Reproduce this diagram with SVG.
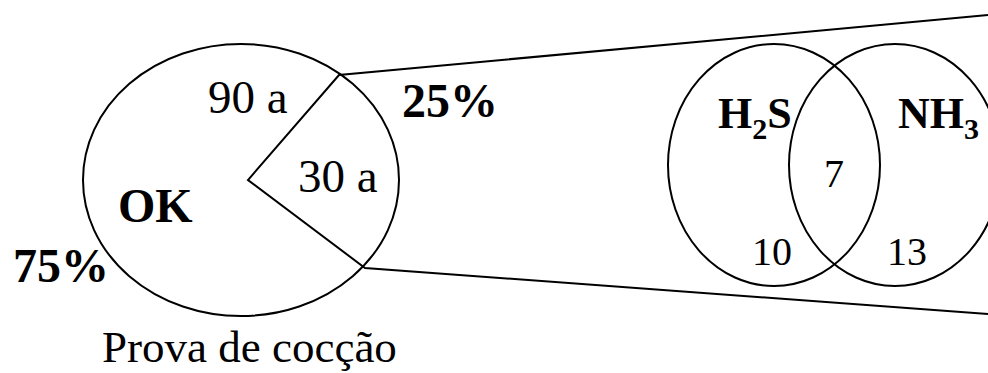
<svg xmlns="http://www.w3.org/2000/svg" width="988" height="373" viewBox="0 0 988 373">
<style>
.s{fill:none;stroke:#000;stroke-width:2}
.r{font-family:"Liberation Serif","Times New Roman",serif;fill:#000}
.b{font-family:"Liberation Serif","Times New Roman",serif;font-weight:bold;fill:#000}
</style>
<rect width="988" height="373" fill="#fff"/>
<g id="pie">
<ellipse class="s" cx="241" cy="180" rx="158" ry="136"/>
<text class="r" x="208" y="113" font-size="47">90 a</text>
<text class="r" x="298" y="192" font-size="47">30 a</text>
<text class="b" x="118" y="222" font-size="48">OK</text>
</g>
<g id="label-25">
<text class="b" x="402" y="117" font-size="48">25%</text>
</g>
<g id="label-75">
<text class="b" x="13" y="282" font-size="48">75%</text>
</g>
<g id="caption">
<text class="r" x="102" y="362" font-size="45">Prova de cocção</text>
</g>
<g id="venn-h2s">
<ellipse class="s" cx="774" cy="165" rx="106" ry="121"/>
<text class="b" x="718" y="128" font-size="44">H<tspan font-size="30" dy="11">2</tspan><tspan dy="-11">S</tspan></text>
<text class="r" x="752" y="265" font-size="40">10</text>
</g>
<g id="venn-nh3">
<ellipse class="s" cx="895" cy="165" rx="106" ry="121"/>
<text class="b" x="898" y="128" font-size="44">NH<tspan font-size="30" dy="11">3</tspan></text>
<text class="r" x="887" y="265" font-size="40">13</text>
</g>
<g id="venn-both">
<text class="r" x="824" y="187" font-size="40">7</text>
</g>
<g id="connectors">
<polyline class="s" points="988,15 339,75 248,180 365,268 988,314"/>
</g>
</svg>
